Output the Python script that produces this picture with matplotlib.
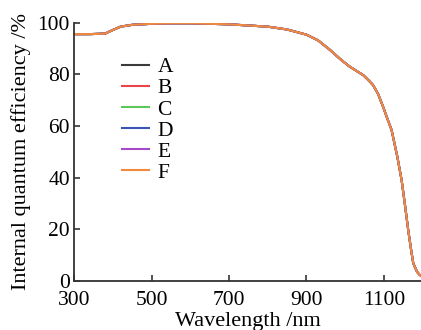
import matplotlib
matplotlib.use("Agg")
import matplotlib.pyplot as plt

# ---------------------------------------------------------------------------
# DATA (the six curves coincide, F drawn on top)
# ---------------------------------------------------------------------------
wavelength = [300, 340, 380, 400, 420, 450, 500, 550, 600, 700, 800, 850,
              900, 930, 960, 990, 1012, 1030, 1047, 1060, 1072, 1085, 1098,
              1110, 1120, 1135, 1146, 1155, 1163, 1170, 1176, 1180, 1186, 1193, 1198]
iqe = [95.6, 95.6, 95.8, 97.2, 98.5, 99.2, 99.6, 99.8, 99.8, 99.4, 98.5, 97.4,
       95.4, 93.2, 89.6, 85.6, 83.0, 81.3, 79.7, 77.8, 75.9, 72.5, 67.5,
       62.5, 58.5, 48.0, 39.0, 29.0, 19.7, 12.5, 6.9, 5.5, 3.5, 2.3, 1.8]

series = ["A", "B", "C", "D", "E", "F"]
colors = ["#3a3a3a", "#e8454a", "#5cc85c", "#3a55b5", "#a64bc8", "#f08a3c"]

xticks = [300, 500, 700, 900, 1100]
yticks = [0, 20, 40, 60, 80, 100]

# ---------------------------------------------------------------------------
# PLOT
# ---------------------------------------------------------------------------
plt.rcParams["font.family"] = ["Liberation Serif", "DejaVu Serif"]

fig = plt.figure(figsize=(4.21, 3.30), dpi=100)
ax = fig.add_axes([0.176, 0.1485, 0.824, 0.7825])

for name, col in zip(series, colors):
    ax.plot(wavelength, iqe, color=col, lw=1.5, label=name)

ax.set_xlim(300, 1196)
ax.set_ylim(0, 100)
ax.set_xticks(xticks)
ax.set_yticks(yticks)

for s in ["top", "right"]:
    ax.spines[s].set_visible(False)
for s in ["left", "bottom"]:
    ax.spines[s].set_color("#333333")
    ax.spines[s].set_linewidth(1.3)

ax.tick_params(direction="in", length=4, width=1.2, color="#333333",
               labelsize=15.5)
ax.tick_params(axis="x", pad=7.5)
ax.tick_params(axis="y", pad=3)

ax.set_xlabel("Wavelength /nm", fontsize=16, labelpad=1)
ax.set_ylabel("Internal quantum efficiency /%", fontsize=16, labelpad=5)

ax.legend(frameon=False, loc="upper left", bbox_to_anchor=(0.113, 0.90),
          fontsize=15.5, handlelength=1.25, handletextpad=0.4,
          labelspacing=0.05, borderaxespad=0)

fig.savefig("out.png", dpi=100)
